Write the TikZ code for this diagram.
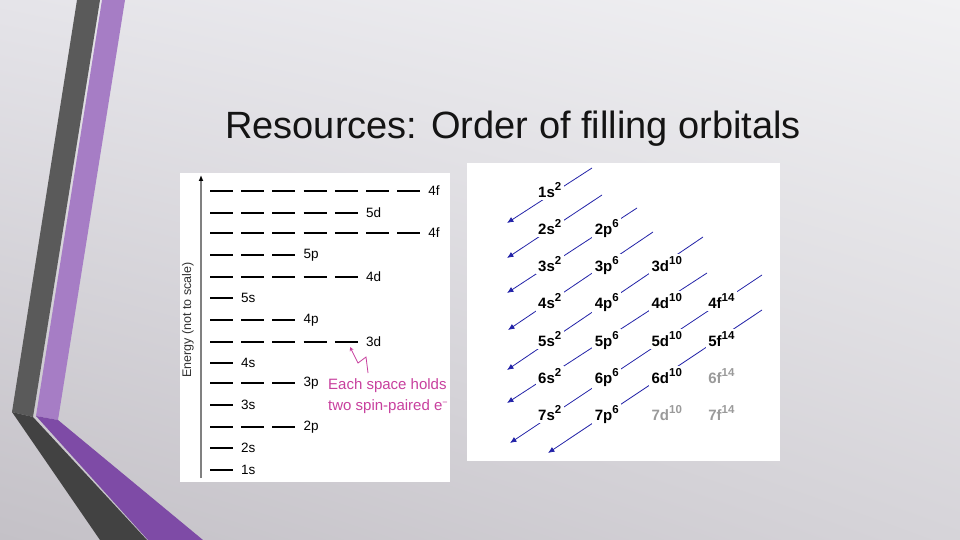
\documentclass[tikz,border=0pt]{standalone}
\usepackage{fontspec}
\setmainfont{Liberation Sans}
\usepackage{tikz}
\usetikzlibrary{arrows.meta,positioning,shadings}

\definecolor{bgul}{RGB}{229,228,233}
\definecolor{bgur}{RGB}{241,241,243}
\definecolor{bgll}{RGB}{196,193,199}
\definecolor{bglr}{RGB}{214,212,217}
\definecolor{titleblack}{RGB}{20,20,20}
\definecolor{axisgray}{RGB}{50,50,50}
\definecolor{bandgray}{HTML}{5A5A5A}
\definecolor{banddark}{HTML}{424242}
\definecolor{bandlilac}{HTML}{A67DC5}
\definecolor{bandpurple}{HTML}{7E4BA6}
\definecolor{notepink}{HTML}{C8409E}
\definecolor{diagblue}{HTML}{2323A8}
\definecolor{fadedgray}{HTML}{9A9A9A}

\tikzset{
  levellabel/.style={font=\fontsize{13.5}{13.5}\selectfont, inner sep=0pt},
  orb/.style={font=\fontsize{15}{15}\selectfont\bfseries, fill=white, inner sep=2.5pt},
  diag/.style={diagblue, line width=0.8pt, -{Latex[length=6.5pt,width=5.5pt]}},
  note/.style={notepink, font=\fontsize{15}{15}\selectfont, inner sep=0pt}
}
\newcommand{\orbtxt}[2]{#1\raisebox{7pt}{\fontsize{11.5}{11.5}\selectfont #2}}

\begin{document}
\begin{tikzpicture}[x=1pt,y=-1pt]
        % slide background
        \useasboundingbox (0,0) rectangle (960,540);
        \shade[upper left=bgul, upper right=bgur, lower left=bgll, lower right=bglr]
               (0,0) rectangle (960,540);

        % bands on the left
        \fill[bandgray] (77,0) -- (100,0) -- (33,417) -- (12,412) -- cycle;
        \fill[banddark] (12,412) -- (33,417) -- (147,540) -- (100,540) -- cycle;
        \fill[bandlilac] (102,0) -- (125,0) -- (58,420) -- (36,416) -- cycle;
        \fill[bandpurple] (36,416) -- (58,420) -- (203,540) -- (148,540) -- cycle;

        % title
        \node[anchor=base west, inner sep=0pt, font=\fontsize{38}{38}\selectfont, text=titleblack]
             (title) at (225,139) {Resources: Order of filling orbitals};

        % energy level panel
        \fill[white] (180,173) rectangle (450,482);
        \begin{scope}
        \clip (180,173) rectangle (450,482);
        \coordinate (axisbot) at (201,478);
        \coordinate (axistop) at (201,175);
        \draw[gray, line width=1.2pt, -{Latex[length=6pt,width=5pt,black]}] (axisbot) -- (axistop);
        \node[rotate=90, font=\fontsize{12.5}{12.5}\selectfont, text=axisgray] (energy) at (188,320) {Energy (not to scale)};

        \foreach \y/\k/\lab/\w in {191/7/4f/2.2, 213/5/5d/2.2, 233/7/4f/2.9, 255/3/5p/2.2,
                                   277/5/4d/2.2, 298/1/5s/2.2, 320/3/4p/2.2, 342/5/3d/2.2,
                                   363/1/4s/2.2, 383/3/3p/2.2, 405/1/3s/2.2, 427/3/2p/2.2,
                                   448/1/2s/2.2, 470/1/1s/2.2} {
                \foreach \i in {1,...,\k}
                        \draw[line width=\w pt] ({210+31.2*(\i-1)},\y) -- ++(23,0);
                \node[levellabel, anchor=west] (lv\y) at ({210+31.2*(\k-1)+31},\y) {\lab};
        }

        % note on the 3d level
        \coordinate (squig) at (368,373);
        \coordinate (tip) at (350,347);
        \draw[notepink, line width=0.8pt, -{Stealth[length=4pt,width=4pt]}]
             (squig) -- (366,357) -- (358,363) -- (tip);
        \node[note, anchor=base west] (note1) at (328,389) {Each space holds};
        \node[note, anchor=base west] (note2) at (328,410) {two spin-paired e\raisebox{5pt}{\fontsize{9}{9}\selectfont −}};
        \end{scope}

        % diagonal rule panel
        \fill[white] (467,163) rectangle (780,461);

        \foreach \k/\sx/\sy/\ex/\ey in {1/592/168/507/223, 2/602/195/507/258, 3/637/208/507/293,
                                        4/653/232/508/330, 5/703/237/507/370, 6/707/273/507/403,
                                        7/762/275/510/443, 8/762/310/548/453} {
                \coordinate (a\k s) at (\sx,\sy);
                \coordinate (a\k e) at (\ex,\ey);
                \draw[diag] (a\k s) -- (a\k e);
        }

        \foreach \lab/\ex/\c/\r/\clr in {1s/2/0/1/black, 2s/2/0/2/black, 2p/6/1/2/black,
                                         3s/2/0/3/black, 3p/6/1/3/black, 3d/10/2/3/black,
                                         4s/2/0/4/black, 4p/6/1/4/black, 4d/10/2/4/black, 4f/14/3/4/black,
                                         5s/2/0/5/black, 5p/6/1/5/black, 5d/10/2/5/black, 5f/14/3/5/black,
                                         6s/2/0/6/black, 6p/6/1/6/black, 6d/10/2/6/black, 6f/14/3/6/fadedgray,
                                         7s/2/0/7/black, 7p/6/1/7/black, 7d/10/2/7/fadedgray, 7f/14/3/7/fadedgray}
                \node[orb, text=\clr, anchor=base west] (o\lab) at ({535.5+56.7*\c},{197+37.3*(\r-1)}) {\orbtxt{\lab}{\ex}};
\end{tikzpicture}
\end{document}
